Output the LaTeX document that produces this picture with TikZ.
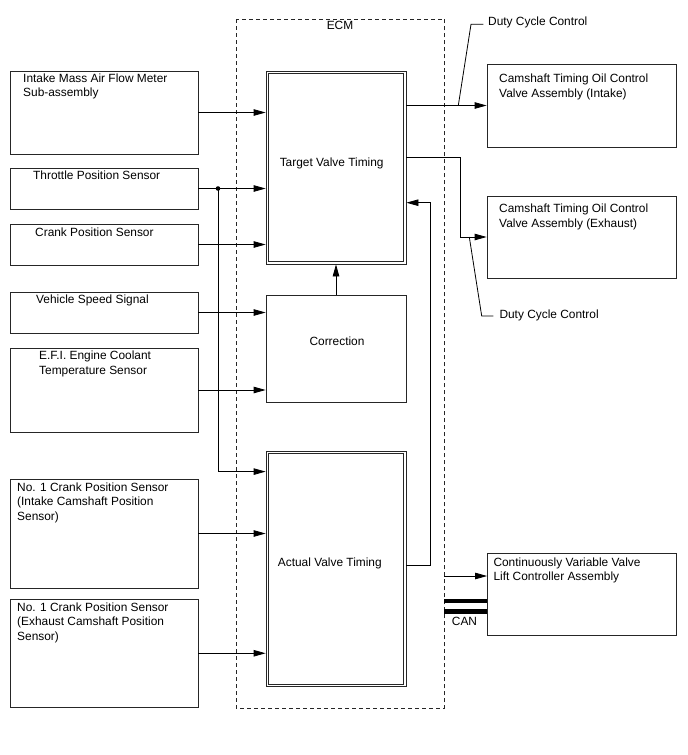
\documentclass[tikz,border=0pt]{standalone}
\usepackage{fontspec}
\setmainfont{Liberation Sans}
\usetikzlibrary{arrows.meta,calc}
\begin{document}
\begin{tikzpicture}[x=1pt,y=-1pt,
  every node/.style={font=\fontsize{11.9}{14.4}\selectfont},
  box/.style={draw=black!85,line width=0.8pt,inner sep=0pt,rectangle},
  lbl/.style={anchor=north west,align=left,inner sep=0pt},
  arr/.style={draw=black,line width=0.8pt,-{Triangle[length=12pt,width=6.5pt]}},
  ln/.style={draw=black,line width=0.8pt},
  inner/.style={draw=black!85,line width=0.8pt},
  ecmstyle/.style={draw=black!85,line width=0.8pt,dash pattern=on 4pt off 3pt}
]
\useasboundingbox (0,0) rectangle (688,755);
% ECM frame
\draw[ecmstyle] (236,19) rectangle (444.3,708);
\node (ecm) at (340,25) {ECM};
% left boxes
\node[box,minimum width=188pt,minimum height=83pt] (maf) at (104,112.5) {};
\node[box,minimum width=188pt,minimum height=41pt] (tps) at (104,188.5) {};
\node[box,minimum width=188pt,minimum height=41pt] (cps) at (104,244.5) {};
\node[box,minimum width=188pt,minimum height=41pt] (vss) at (104,312.5) {};
\node[box,minimum width=188pt,minimum height=84pt] (efi) at (104,390) {};
\node[box,minimum width=188pt,minimum height=109pt] (noi) at (104,533.5) {};
\node[box,minimum width=188pt,minimum height=108.5pt] (noe) at (104,653.25) {};
\node[lbl] (mafT) at (23,73.3) {Intake Mass Air Flow Meter\\Sub-assembly};
\node[lbl] (tpsT) at (33,170.8) {Throttle Position Sensor};
\node[lbl] (cpsT) at (35,227.8) {Crank Position Sensor};
\node[lbl] (vssT) at (36,294.2) {Vehicle Speed Signal};
\node[lbl] (efiT) at (39,350.8) {E.F.I. Engine Coolant\\Temperature Sensor};
\node[lbl] (noiT) at (17,482.5) {No. 1 Crank Position Sensor\\(Intake Camshaft Position\\Sensor)};
\node[lbl] (noeT) at (17,602.5) {No. 1 Crank Position Sensor\\(Exhaust Camshaft Position\\Sensor)};
% ECM internal blocks
\node[box,minimum width=140pt,minimum height=192.5pt] (tvt) at (336,167.75) {};
\draw[inner] ($(tvt.north west)+(2.6,2.6)$) rectangle ($(tvt.south east)+(-2.6,-2.6)$);
\node[box,minimum width=140pt,minimum height=107.5pt] (cor) at (336,348.75) {};
\node[box,minimum width=140pt,minimum height=235pt] (avt) at (336,569) {};
\draw[inner] ($(avt.north west)+(2.6,2.6)$) rectangle ($(avt.south east)+(-2.6,-2.6)$);
\node (tvtT) at (331.7,163.3) {Target Valve Timing};
\node (corT) at (337,341) {Correction};
\node (avtT) at (329.8,563.3) {Actual Valve Timing};
% right boxes
\node[box,minimum width=189pt,minimum height=83pt] (ocvi) at (581.5,105.5) {};
\node[box,minimum width=189pt,minimum height=82pt] (ocve) at (581.5,237) {};
\node[box,minimum width=188.5pt,minimum height=82pt] (cvvl) at (581.75,594) {};
\node[lbl] (ocviT) at (499,74) {Camshaft Timing Oil Control\\Valve Assembly (Intake)};
\node[lbl] (ocveT) at (499,204) {Camshaft Timing Oil Control\\Valve Assembly (Exhaust)};
\node[lbl] (cvvlT) at (493.3,557.5) {Continuously Variable Valve\\Lift Controller Assembly};
% inputs
\draw[arr] (maf.east) -- (maf.east -| tvt.west);
\draw[arr] (tps.east) -- (tps.east -| tvt.west);
\draw[arr] (cps.east) -- (cps.east -| tvt.west);
\draw[arr] (vss.east) -- (vss.east -| cor.west);
\draw[arr] (efi.east) -- (efi.east -| cor.west);
\draw[arr] (noi.east) -- (noi.east -| avt.west);
\draw[arr] (noe.east) -- (noe.east -| avt.west);
\coordinate (j) at (218,188.5);
\coordinate (jb) at (218,471.6);
\fill[black] (j) circle (2.3pt);
\draw[arr] (j) -- (jb) -- (jb -| avt.west);
\draw[arr] (cor.north) -- (tvt.south);
% feedback
\coordinate (fb) at (430.7,565);
\coordinate (fbt) at (430.7,202.7);
\draw[arr] (avt.east |- fb) -- (fb) -- (fbt) -- (fbt -| tvt.east);
% outputs
\draw[arr] (tvt.east |- ocvi.west) -- (ocvi.west);
\coordinate (b1) at (460,157.7);
\draw[arr] (tvt.east |- b1) -- (b1) |- (ocve.west);
% duty cycle labels
\coordinate (d1) at (458.3,105.5);
\coordinate (d1k) at (471,24.3);
\coordinate (d1e) at (483.3,24.3);
\draw[ln] (d1) -- (d1k) -- (d1e);
\node[lbl] (duty1) at (488,16.3) {Duty Cycle Control};
\coordinate (d2) at (469.3,237);
\coordinate (d2k) at (481.7,316);
\coordinate (d2e) at (493.3,316);
\draw[ln] (d2) -- (d2k) -- (d2e);
\node[lbl] (duty2) at (499.3,309.6) {Duty Cycle Control};
% CVVL
\coordinate (cv) at (444.3,576);
\draw[arr] (cv) -- (cv -| cvvl.west);
\coordinate (can1) at (444.3,601.2);
\coordinate (can2) at (444.3,611.5);
\draw[line width=4.3pt] (can1) -- (can1 -| cvvl.west);
\draw[line width=4.3pt] (can2) -- (can2 -| cvvl.west);
\node (canT) at (464.5,621.5) {CAN};
\end{tikzpicture}
\end{document}
